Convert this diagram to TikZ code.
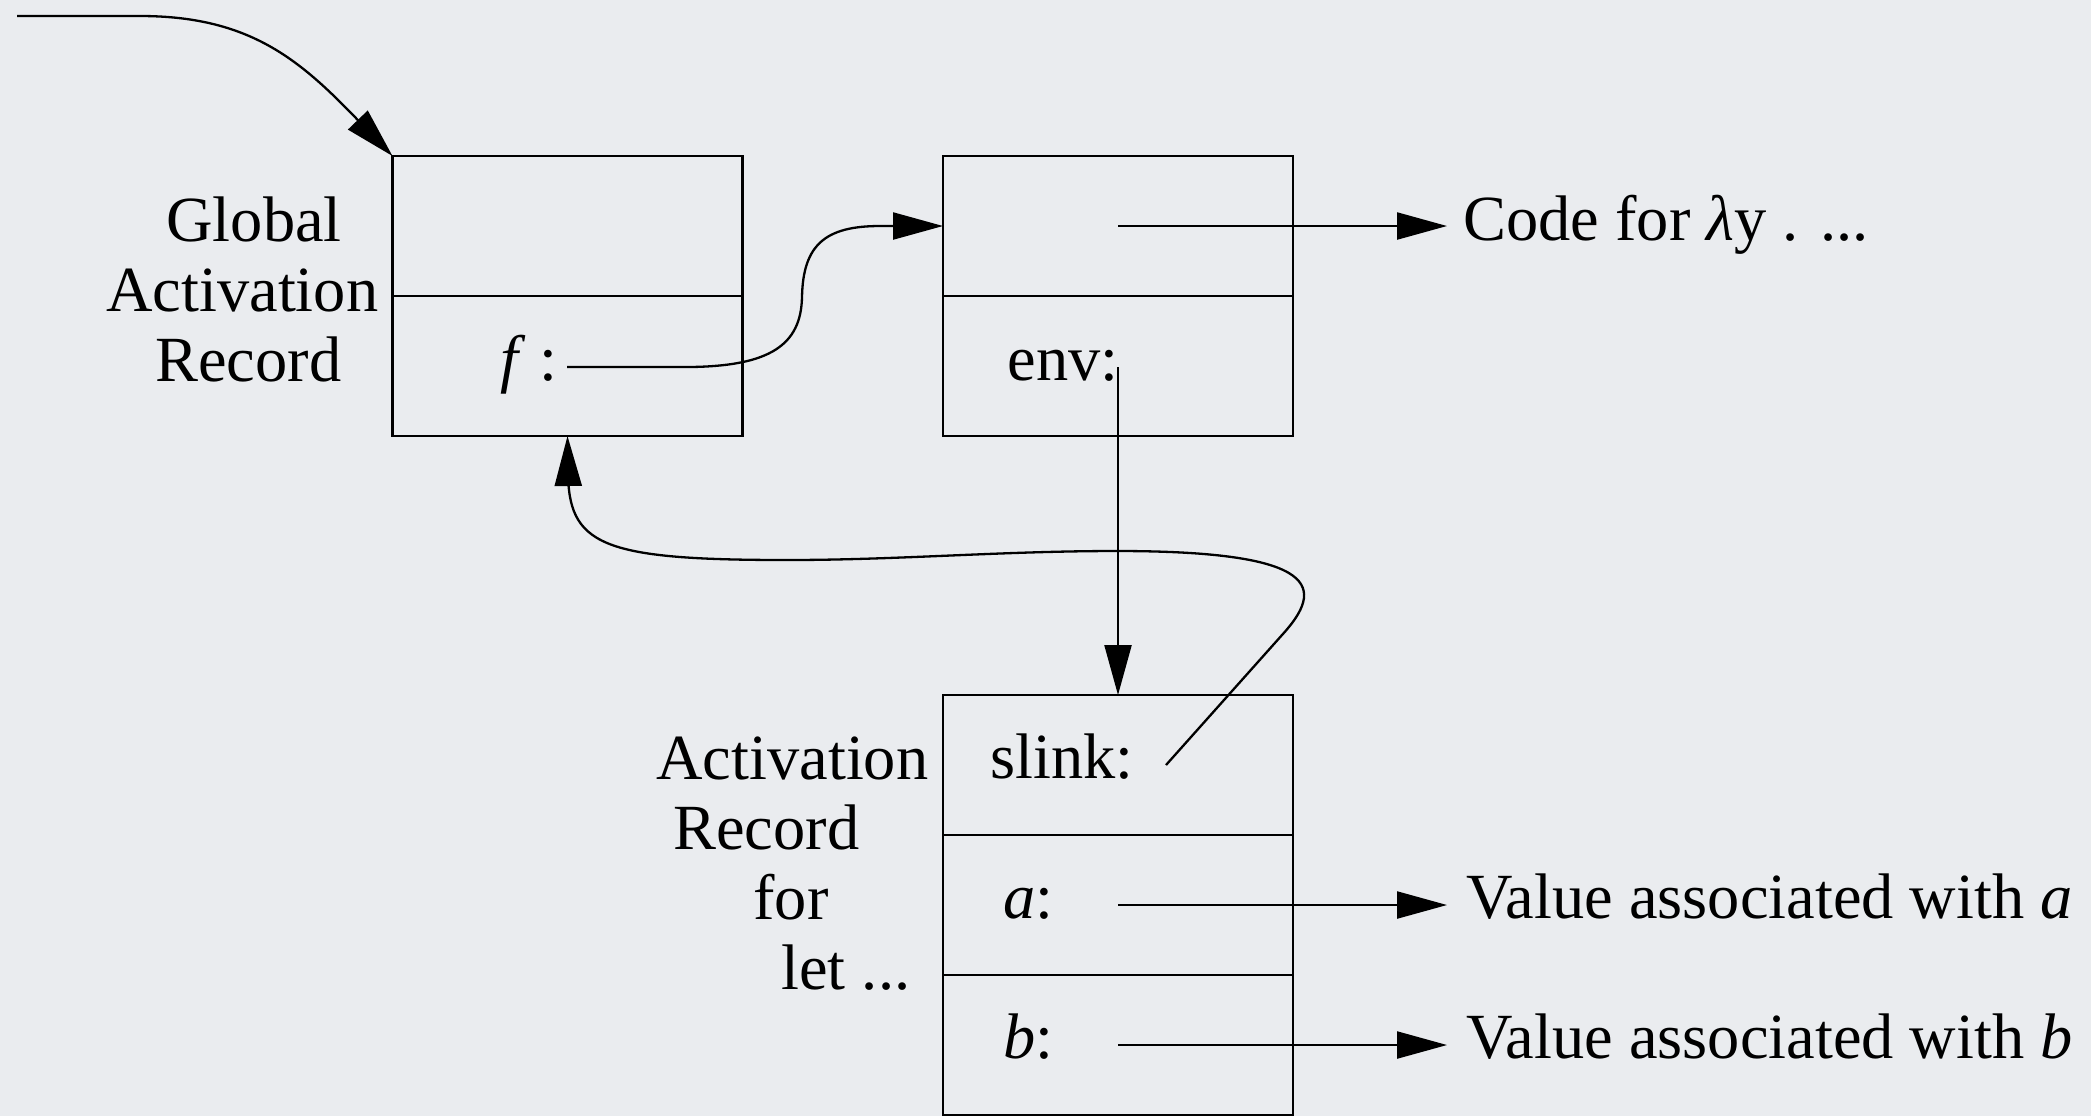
\documentclass[tikz,border=0pt]{standalone}
\usepackage{fontspec}
\setmainfont{Liberation Serif}
\usetikzlibrary{arrows.meta}
\definecolor{bg}{RGB}{234,236,239}
\begin{document}
\begin{tikzpicture}[x=0.5pt,y=-0.5pt,
  cell/.style={draw, line width=1.3pt, minimum width=175pt, minimum height=70pt, inner sep=0pt, outer sep=0pt},
  lbl/.style={anchor=base west, inner sep=0pt, font=\fontsize{32.2}{35}\selectfont},
  conn/.style={line width=1.15pt},
  arr/.style={conn, -{Triangle[length=25pt,width=13.5pt]}},
]
\fill[bg] (0,0) rectangle (2091,1116);
\useasboundingbox (0,0) rectangle (2091,1116);

% boxes
\node[cell] (g1) at (567.5,226) {};
\node[cell] (g2) at (567.5,366) {};
\node[cell] (e1) at (1118,226) {};
\node[cell] (e2) at (1118,366) {};
\node[cell] (r1) at (1118,765) {};
\node[cell] (r2) at (1118,905) {};
\node[cell] (r3) at (1118,1045) {};

% labels
\node[lbl] (gl1) at (166,241) {Global};
\node[lbl] (gl2) at (106,311) {Activation};
\node[lbl] (gl3) at (155,381) {Record};
\node[lbl] (ftxt) at (500,380) {\textit{f}\kern0.22em:};
\node[lbl] (envtxt) at (1007,380) {env:};
\node[lbl] (code) at (1463,240) {Code for \textit{λ}y . ...};
\node[lbl] (slk) at (990,778) {slink:};
\node[lbl] (atxt) at (1003,918) {\textit{a}:};
\node[lbl] (btxt) at (1003,1058) {\textit{b}:};
\node[lbl] (va) at (1466,918) {Value associated with \textit{a}};
\node[lbl] (vb) at (1466,1058) {Value associated with \textit{b}};
\node[lbl] (al1) at (656,779) {Activation};
\node[lbl] (al2) at (673,849) {Record};
\node[lbl] (al3) at (753,919) {for};
\node[lbl] (al4) at (781,989) {let ...};

% connector start points
\coordinate (in0) at (17,16);
\coordinate (fs) at (567,367);
\coordinate (cs) at (1118,226);
\coordinate (es) at (1118,367);
\coordinate (ss) at (1166,765);
\coordinate (as) at (1118,905);
\coordinate (bs) at (1118,1045);

% connectors
\draw[arr] (in0) -- (140,16) .. controls (250,16) and (300,60) .. (g1.north west);
\draw[arr] (fs) -- (690,367) .. controls (770,366) and (801,345) .. (802,297)
  .. controls (803,245) and (825,226) .. (880,226) -- (e1.west);
\draw[arr] (cs) -- ([xshift=-8pt,yshift=7pt]code.base west);
\draw[arr] (es) -- (r1.north);
\draw[arr] (ss) -- (1282,635) .. controls (1325,588) and (1322,551) .. (1117,551)
  .. controls (1000,551) and (900,560) .. (787,560)
  .. controls (600,560) and (568,545) .. (568,470) -- (g2.south);
\draw[arr] (as) -- ([xshift=-9.5pt,yshift=6.5pt]va.base west);
\draw[arr] (bs) -- ([xshift=-9.5pt,yshift=6.5pt]vb.base west);
\end{tikzpicture}
\end{document}
